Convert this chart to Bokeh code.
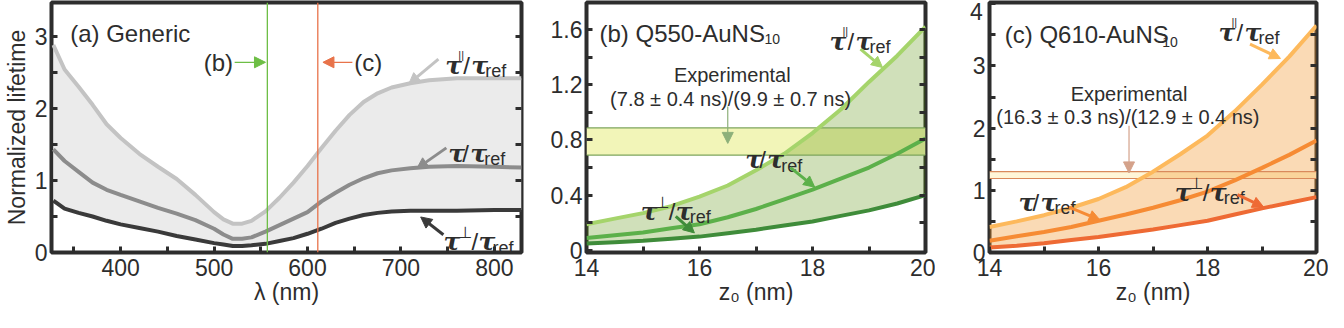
from bokeh.plotting import figure
from bokeh.layouts import row
from bokeh.models import (Range1d, LinearAxis, FixedTicker, CustomJSTickFormatter,
                          Arrow, NormalHead, Span)
from bokeh.core.properties import value
from bokeh.embed import file_html
from bokeh.resources import INLINE

# ---------------- data ----------------
# panel (a): generic spectra
wl_nm = [328, 340, 355, 370, 385, 400, 420, 440, 460, 480, 500, 510, 520, 530, 540,
         555, 570, 585, 600, 615, 630, 645, 660, 675, 690, 710, 730, 760, 800, 829]
a_par = [2.88, 2.54, 2.30, 2.05, 1.78, 1.59, 1.37, 1.19, 1.02, 0.80, 0.56, 0.46, 0.40, 0.40, 0.44,
         0.57, 0.76, 0.97, 1.20, 1.45, 1.69, 1.91, 2.09, 2.21, 2.29, 2.35, 2.39, 2.42, 2.42, 2.42]
a_tot = [1.43, 1.27, 1.12, 0.97, 0.87, 0.80, 0.71, 0.62, 0.54, 0.45, 0.33, 0.25, 0.19, 0.19, 0.21,
         0.29, 0.38, 0.47, 0.56, 0.71, 0.83, 0.94, 1.03, 1.10, 1.14, 1.17, 1.19, 1.20, 1.19, 1.18]
a_perp = [0.72, 0.61, 0.55, 0.50, 0.44, 0.39, 0.34, 0.29, 0.23, 0.18, 0.13, 0.11, 0.09, 0.09, 0.10,
          0.12, 0.16, 0.20, 0.26, 0.33, 0.41, 0.47, 0.52, 0.55, 0.57, 0.58, 0.58, 0.58, 0.59, 0.59]
line_b_nm = 557
line_c_nm = 611

# panels (b), (c): distance dependence
z0_nm = [14.0, 14.5, 15.0, 15.5, 16.0, 16.5, 17.0, 17.5, 18.0, 18.5, 19.0, 19.5, 20.0]
b_par = [0.19, 0.23, 0.27, 0.32, 0.39, 0.47, 0.58, 0.70, 0.85, 1.02, 1.22, 1.41, 1.62]
b_tot = [0.09, 0.11, 0.13, 0.16, 0.19, 0.24, 0.30, 0.37, 0.44, 0.52, 0.60, 0.70, 0.81]
b_perp = [0.05, 0.06, 0.07, 0.085, 0.10, 0.125, 0.15, 0.18, 0.21, 0.25, 0.29, 0.34, 0.40]
c_par = [0.41, 0.50, 0.60, 0.72, 0.86, 1.05, 1.30, 1.58, 1.88, 2.27, 2.70, 3.15, 3.65]
c_tot = [0.19, 0.26, 0.33, 0.41, 0.51, 0.61, 0.72, 0.84, 0.98, 1.16, 1.36, 1.57, 1.80]
c_perp = [0.08, 0.11, 0.15, 0.20, 0.25, 0.31, 0.37, 0.44, 0.51, 0.61, 0.71, 0.80, 0.89]
b_exp_band = [0.69, 0.887]
c_exp_band = [1.19, 1.30]
b_exp_text = ["Experimental", "(7.8 ± 0.4 ns)/(9.9 ± 0.7 ns)"]
c_exp_text = ["Experimental", "(16.3 ± 0.3 ns)/(12.9 ± 0.4 ns)"]

# ---------------- style ----------------
INK = "#2d2d2d"
SANS_NAME = "Liberation Sans"
SANS = value(SANS_NAME)
SERIF = value("DejaVu Serif")
SYM = value("DejaVu Sans")
FS = "23px"
H = 312


def make_fig(width, xr, yr, bl, br, xt, xminor, yt, yminor, yright, yfmt=None,
             ybaseline="middle"):
    p = figure(width=width, height=H, x_range=Range1d(*xr), y_range=Range1d(*yr),
               output_backend="svg", toolbar_location=None,
               min_border_left=bl, min_border_right=br, min_border_top=2, min_border_bottom=60)
    p.outline_line_width = 4
    p.outline_line_color = INK
    p.outline_line_alpha = 1
    p.grid.visible = False
    p.xaxis.ticker = FixedTicker(ticks=xt, minor_ticks=xminor)
    p.yaxis.ticker = FixedTicker(ticks=yt, minor_ticks=yminor)
    if yfmt is not None:
        p.yaxis.formatter = yfmt
    for ax in (p.xaxis[0], p.yaxis[0]):
        ax.axis_line_color = None
        ax.major_tick_in = 6
        ax.major_tick_out = 0
        ax.minor_tick_in = 6
        ax.minor_tick_out = 0
        ax.major_tick_line_width = 3
        ax.minor_tick_line_width = 3
        ax.major_tick_line_color = INK
        ax.minor_tick_line_color = INK
        ax.major_label_text_font = SANS_NAME
        ax.major_label_text_font_size = FS
        ax.major_label_text_color = INK
        ax.axis_label_text_font = SANS_NAME
        ax.axis_label_text_font_size = FS
        ax.axis_label_text_font_style = "normal"
        ax.axis_label_text_color = INK
    p.xaxis.major_label_standoff = 6
    p.xaxis.axis_label_standoff = 0
    p.yaxis.major_label_standoff = 4
    p.yaxis.axis_label_standoff = 2
    p.yaxis.major_label_text_baseline = ybaseline
    ra = LinearAxis(ticker=FixedTicker(ticks=yright),
                    formatter=CustomJSTickFormatter(code="return '';"),
                    axis_line_color=None, major_tick_in=6, major_tick_out=0,
                    minor_tick_in=0, minor_tick_out=0,
                    major_tick_line_width=3, major_tick_line_color=INK,
                    major_label_standoff=0, major_label_text_font_size="1px")
    p.add_layout(ra, "right")
    return p


def txt(p, x, y, s, size=FS, font=SANS, style="normal", align="left", dx=0, dy=0,
        color=INK, baseline="alphabetic"):
    p.text(x=[x], y=[y], text=[s], text_font=font, text_font_size=size,
           text_font_style=style, text_align=align, text_baseline=baseline,
           text_color=color, x_offset=dx, y_offset=dy)


def tau_label(p, x, y, kind):
    tau = dict(size="25px", font=SERIF, style="bold italic")
    txt(p, x, y, "τ", **tau)
    if kind == "par":
        txt(p, x, y, "||", size="11px", dx=13, dy=-10)
        s, t, r = 18, 26, 40
    elif kind == "perp":
        txt(p, x, y, "⊥", size="16px", font=SYM, dx=15, dy=-9)
        s, t, r = 28, 35, 49
    else:
        s, t, r = 14, 22, 36
    txt(p, x, y, "/", size="24px", dx=s)
    txt(p, x, y, "τ", dx=t, **tau)
    txt(p, x, y, "ref", size="18px", dx=r, dy=6)


def arrow(p, x0, y0, x1, y1, color, lw=3, size=11):
    p.add_layout(Arrow(end=NormalHead(size=size, fill_color=color, line_color=color, line_width=1),
                       x_start=x0, y_start=y0, x_end=x1, y_end=y1,
                       line_color=color, line_width=lw))


# ---------------- panel (a) ----------------
pa = make_fig(531, (326, 829), (0, 3.47), 46, 10,
              [400, 500, 600, 700, 800], [350, 450, 550, 650, 750],
              [0, 1, 2, 3], [0.5, 1.5, 2.5], [0.5, 1, 1.5, 2, 2.5, 3],
              ybaseline="alphabetic")
pa.xaxis[0].axis_label = "λ (nm)"
pa.left[0].axis_label = "Normalized lifetime"
pa.varea(x=wl_nm, y1=a_perp, y2=a_par, fill_color="#ebebeb")
pa.line(wl_nm, a_par, line_color="#c3c3c3", line_width=4)
pa.line(wl_nm, a_tot, line_color="#8c8c8c", line_width=4)
pa.line(wl_nm, a_perp, line_color="#3a3a3a", line_width=4)
pa.add_layout(Span(location=line_b_nm, dimension="height", line_color="#6dbe45", line_width=1.3))
pa.add_layout(Span(location=line_c_nm, dimension="height", line_color="#e8734a", line_width=1.3))
txt(pa, 346, 3.04, "(a) Generic", size="24px")
txt(pa, 504.6, 2.64, "(b)", size="24px", align="center", baseline="middle")
txt(pa, 665, 2.64, "(c)", size="24px", align="center", baseline="middle")
arrow(pa, 522, 2.64, 555, 2.64, "#6dbe45", lw=1.3, size=11)
arrow(pa, 648, 2.64, 616.5, 2.64, "#e8734a", lw=1.3, size=11)
tau_label(pa, 747.5, 2.60, "par")
tau_label(pa, 750.7, 1.38, "tot")
tau_label(pa, 745.4, 0.15, "perp")
arrow(pa, 740.1, 2.685, 708.4, 2.34, "#c3c3c3")
arrow(pa, 748.6, 1.452, 716.9, 1.164, "#8c8c8c")
arrow(pa, 745.4, 0.247, 721.1, 0.493, "#3a3a3a")

# ---------------- panel (b) ----------------
fmt_b = CustomJSTickFormatter(code="return tick == 0 ? '0' : tick.toFixed(1);")
pb = make_fig(404, (14, 20), (-0.015, 1.795), 55, 10,
              [14, 16, 18, 20], [15, 17, 19],
              [0, 0.4, 0.8, 1.2, 1.6], [0.2, 0.6, 1.0, 1.4],
              [0.2, 0.4, 0.6, 0.8, 1.0, 1.2, 1.4, 1.6], yfmt=fmt_b,
              ybaseline="alphabetic")
pb.xaxis[0].axis_label = "z₀ (nm)"
pb.varea(x=[14, 20], y1=[b_exp_band[0]] * 2, y2=[b_exp_band[1]] * 2, fill_color="#f2f5b8")
pb.varea(x=z0_nm, y1=b_perp, y2=b_par, fill_color="#518c00", fill_alpha=0.27)
pb.line([14, 20], [b_exp_band[0]] * 2, line_color="#7da55b", line_width=1.2)
pb.line([14, 20], [b_exp_band[1]] * 2, line_color="#7da55b", line_width=1.2)
pb.line(z0_nm, b_par, line_color="#a5d46b", line_width=4)
pb.line(z0_nm, b_tot, line_color="#5cb04a", line_width=4)
pb.line(z0_nm, b_perp, line_color="#3f8c3a", line_width=4)
txt(pb, 14.23, 1.57, "(b) Q550-AuNS", size="24px")
txt(pb, 17.15, 1.528, "10", size="14px")
txt(pb, 16.58, 1.268, b_exp_text[0], size="20px", align="center")
txt(pb, 16.55, 1.099, b_exp_text[1], size="20px", align="center")
arrow(pb, 16.5, 1.042, 16.5, 0.775, "#8db07a", lw=1.2, size=11)
tau_label(pb, 18.30, 1.514, "par")
tau_label(pb, 16.81, 0.655, "tot")
tau_label(pb, 14.96, 0.282, "perp")
arrow(pb, 18.85, 1.458, 19.24, 1.324, "#a5d46b")
arrow(pb, 17.61, 0.599, 18.04, 0.458, "#5cb04a")
arrow(pb, 15.58, 0.246, 15.91, 0.127, "#3f8c3a")

# ---------------- panel (c) ----------------
lax_props = LinearAxis.properties()
use_end_label = ("axis_label_align" in lax_props) and ("axis_label_orientation" in lax_props)
if use_end_label:
    fmt_c = CustomJSTickFormatter(code="return tick == 4 ? '' : tick.toFixed(0);")
else:
    fmt_c = None
pc = make_fig(393, (14, 20), (0, 4.02), 54, 12,
              [14, 16, 18, 20], [15, 17, 19],
              [0, 1, 2, 3, 4], [0.5, 1.5, 2.5, 3.5],
              [0.5, 1, 1.5, 2, 2.5, 3, 3.5], yfmt=fmt_c)
pc.xaxis[0].axis_label = "z₀ (nm)"
if use_end_label:
    # top tick label "4" drawn just below the top edge (as in the reference)
    lax = pc.left[0]
    lax.axis_label = "\n4"
    lax.axis_label_orientation = "horizontal"
    lax.axis_label_align = "end"
    lax.axis_label_standoff = -13
    lax.axis_label_text_line_height = 0.75
pc.varea(x=[14, 20], y1=[c_exp_band[0]] * 2, y2=[c_exp_band[1]] * 2, fill_color="#fff6d8")
pc.varea(x=z0_nm, y1=c_perp, y2=c_par, fill_color="#f0962a", fill_alpha=0.35)
pc.line([14, 20], [c_exp_band[0]] * 2, line_color="#d98a5c", line_width=1.2)
pc.line([14, 20], [c_exp_band[1]] * 2, line_color="#d98a5c", line_width=1.2)
pc.line(z0_nm, c_par, line_color="#fdb95c", line_width=4)
pc.line(z0_nm, c_tot, line_color="#f68b34", line_width=4)
pc.line(z0_nm, c_perp, line_color="#ee6a34", line_width=4)
txt(pc, 14.28, 3.51, "(c) Q610-AuNS", size="24px")
txt(pc, 17.17, 3.39, "10", size="14px")
txt(pc, 16.56, 2.55, c_exp_text[0], size="20px", align="center")
txt(pc, 16.54, 2.18, c_exp_text[1], size="20px", align="center")
arrow(pc, 16.56, 2.04, 16.56, 1.28, "#d4a28a", lw=1.2, size=11)
tau_label(pc, 18.20, 3.54, "par")
tau_label(pc, 14.53, 0.81, "tot")
tau_label(pc, 17.40, 0.965, "perp")
arrow(pc, 18.78, 3.35, 19.34, 3.12, "#fdb95c")
arrow(pc, 15.46, 0.73, 16.03, 0.52, "#f68b34")
arrow(pc, 18.55, 0.93, 19.03, 0.73, "#ee6a34")

layout = row(pa, pb, pc, spacing=0)
open("out.html", "w").write(file_html(layout, INLINE))
